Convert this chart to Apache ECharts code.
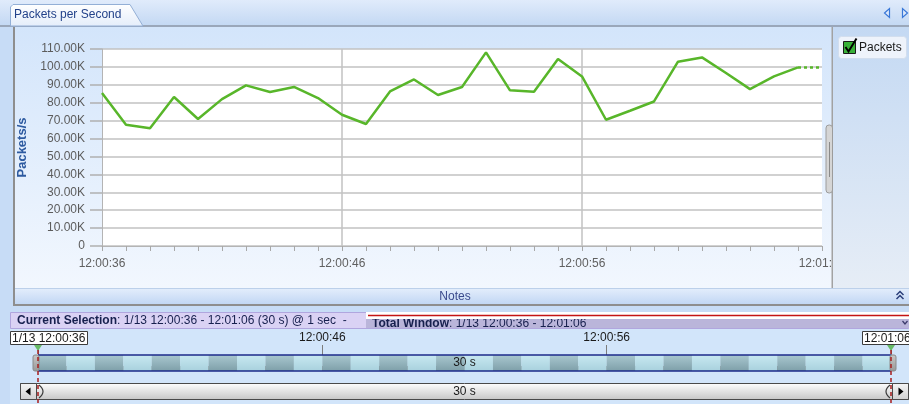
<!DOCTYPE html>
<html>
<head>
<meta charset="utf-8">
<title>Packets per Second</title>
<script src="https://cdn.jsdelivr.net/npm/echarts@6/dist/echarts.min.js"></script>
<style>
  html, body { margin: 0; padding: 0; background: #c9ddf6; }
  #chart { width: 909px; height: 404px; }
</style>
</head>
<body>
<div id="chart"></div>
<script>
// One sample per second over the selected window
const timeLabels = [
  '12:00:36', '12:00:37', '12:00:38', '12:00:39', '12:00:40', '12:00:41',
  '12:00:42', '12:00:43', '12:00:44', '12:00:45', '12:00:46', '12:00:47',
  '12:00:48', '12:00:49', '12:00:50', '12:00:51', '12:00:52', '12:00:53',
  '12:00:54', '12:00:55', '12:00:56', '12:00:57', '12:00:58', '12:00:59',
  '12:01:00', '12:01:01', '12:01:02', '12:01:03', '12:01:04', '12:01:05',
  '12:01:06'
];

// Measured packets per second (12:00:36 .. 12:01:05)
const packetsPerSecond = [
  85400, 67700, 65800, 83200, 70900, 82000, 89700, 86000, 88800, 82600,
  73300, 68100, 86300, 93000, 84300, 88800, 108100, 86900, 86100, 104400,
  94700, 70500, 75500, 80700, 102900, 105300, 96600, 87600, 94700, 99700
];

// Last, still-open interval (drawn dotted)
const pendingTail = [
  null, null, null, null, null, null, null, null, null, null,
  null, null, null, null, null, null, null, null, null, null,
  null, null, null, null, null, null, null, null, null, 99700, 99700
];

const yMax = 110000;
const yStep = 10000;

const seriesName = 'Packets';
const panelTitle = 'Packets per Second';
const yAxisTitle = 'Packets/s';
const selectionStartLabel = '1/13 12:00:36';
const selectionEndLabel = '12:01:06';
const spanLabel = '30 s';
const selectionCaption = 'Current Selection';
const selectionDetail = ': 1/13 12:00:36 - 12:01:06 (30 s) @ 1 sec  -';
const windowCaption = 'Total Window';
const windowDetail = ': 1/13 12:00:36 - 12:01:06';

const FONT = "'Liberation Sans', Arial, sans-serif";
const LINE_GREEN = '#58b62a';

const chart = echarts.init(document.getElementById('chart'), null, { renderer: 'canvas' });

const segmentIndex = packetsPerSecond.map((_, i) => [i]);

function vgrad(top, bottom) {
  return new echarts.graphic.LinearGradient(0, 0, 0, 1, [
    { offset: 0, color: top }, { offset: 1, color: bottom }
  ]);
}

chart.setOption({
  animation: false,
  textStyle: { fontFamily: FONT },
  grid: [
    { left: 102, top: 49, width: 720, height: 197, show: true, backgroundColor: '#ffffff', borderWidth: 0 },
    { left: 38, top: 355, width: 853, height: 16, show: false }
  ],
  xAxis: [
    {
      gridIndex: 0,
      type: 'category',
      data: timeLabels,
      boundaryGap: false,
      axisLine: { show: true, lineStyle: { color: '#b4b4b4', width: 1 } },
      axisTick: { show: true, interval: 0, length: 5, lineStyle: { color: '#a8a8a8' } },
      axisLabel: { interval: 9, margin: 12, color: '#606060', fontSize: 12, fontFamily: FONT },
      splitLine: {
        show: true,
        interval: (i) => i === 10 || i === 20,
        lineStyle: { color: '#c2c2c2', width: 1.5 }
      }
    },
    {
      gridIndex: 1,
      type: 'value',
      min: 0, max: 30, interval: 1,
      position: 'top',
      axisLine: { show: false },
      axisTick: { show: true, length: 5, lineStyle: { color: '#7c7c7c' } },
      axisLabel: { show: false },
      splitLine: { show: false }
    },
    {
      gridIndex: 1,
      type: 'value',
      min: 0, max: 30, interval: 10,
      position: 'top',
      axisLine: { show: false },
      axisTick: { show: true, length: 10, lineStyle: { color: '#7c7c7c' } },
      axisLabel: {
        show: true,
        margin: 11,
        color: '#1a1a1a',
        fontSize: 12,
        fontFamily: FONT,
        formatter: (v) => (v > 0 && v < 30 ? timeLabels[v] : '')
      },
      splitLine: { show: false }
    }
  ],
  yAxis: [
    {
      gridIndex: 0,
      type: 'value',
      min: 0, max: yMax, interval: yStep,
      name: yAxisTitle,
      nameLocation: 'middle',
      nameGap: 66,
      nameTextStyle: { color: '#2d5aa0', fontWeight: 'bold', fontSize: 13, fontFamily: FONT },
      axisLine: { show: true, lineStyle: { color: '#b4b4b4' } },
      axisTick: { show: true, length: 12, lineStyle: { color: '#b0b0b0', width: 1.5 } },
      axisLabel: {
        margin: 17,
        color: '#5c5c5c',
        fontSize: 12,
        fontFamily: FONT,
        formatter: (v) => (v === 0 ? '0' : (v / 1000).toFixed(2) + 'K')
      },
      splitLine: { show: true, lineStyle: { color: '#c2c2c2', width: 1.5 } }
    },
    { gridIndex: 1, type: 'value', min: 0, max: 1, show: false }
  ],
  series: [
    {
      name: seriesName,
      type: 'line',
      xAxisIndex: 0, yAxisIndex: 0,
      data: packetsPerSecond,
      symbol: 'none',
      lineStyle: { color: LINE_GREEN, width: 2.5 },
      z: 3
    },
    {
      name: seriesName,
      type: 'line',
      xAxisIndex: 0, yAxisIndex: 0,
      data: pendingTail,
      symbol: 'none',
      connectNulls: false,
      lineStyle: { color: LINE_GREEN, width: 2.5, type: [3, 3] },
      z: 3
    },
    {
      type: 'custom',
      xAxisIndex: 1, yAxisIndex: 1,
      data: segmentIndex,
      encode: { x: 0 },
      renderItem: (params, api) => {
        const i = api.value(0);
        const p0 = api.coord([i, 1]);
        const p1 = api.coord([i + 1, 0]);
        const dark = i % 2 === 0;
        return {
          type: 'rect',
          shape: { x: p0[0], y: p0[1], width: p1[0] - p0[0], height: p1[1] - p0[1] },
          style: {
            fill: dark ? vgrad('#a9c7cf', '#7e9fa9') : vgrad('#c8e8f1', '#a8d1dd')
          }
        };
      },
      z: 2
    }
  ]
});

// Frame, panels and timeline controls around the chart
const x0 = chart.convertToPixel({ xAxisIndex: 1 }, 0);
const x1 = chart.convertToPixel({ xAxisIndex: 1 }, 30);
const xm = (x0 + x1) / 2;

const BG = -10;
const TOP = 100;

const graphics = [
  // window background
  { type: 'rect', z: BG, shape: { x: 0, y: 0, width: 909, height: 404 }, style: { fill: '#c7dcf6' } },
  // tab strip
  { type: 'rect', z: BG, shape: { x: 0, y: 0, width: 909, height: 26 }, style: { fill: vgrad('#e0ebfb', '#c3d8f3') } },
  { type: 'rect', z: BG, shape: { x: 0, y: 25, width: 909, height: 2 }, style: { fill: '#9aa7ba' } },
  {
    type: 'polygon', z: BG,
    shape: { points: [[10.5, 26], [10.5, 7], [13, 4.5], [130, 4.5], [143, 26]] },
    style: { fill: vgrad('#ffffff', '#e4edfa'), stroke: '#93afd6', lineWidth: 1 }
  },
  {
    type: 'text', z: BG, x: 14, y: 15,
    style: { text: panelTitle, fill: '#23428a', font: '12px ' + FONT, verticalAlign: 'middle' }
  },
  // tab scroll arrows
  { type: 'polygon', z: BG, shape: { points: [[884.5, 13], [889.5, 8.5], [889.5, 17.5]] }, style: { fill: '#dfeafb', stroke: '#3a78d8', lineWidth: 1.2 } },
  { type: 'polygon', z: BG, shape: { points: [[902.5, 8.5], [902.5, 17.5], [907.5, 13]] }, style: { fill: '#dfeafb', stroke: '#3a78d8', lineWidth: 1.2 } },

  // chart panel
  { type: 'rect', z: BG, shape: { x: 15, y: 27, width: 817, height: 261 }, style: { fill: vgrad('#d3e5fb', '#f2f7fe') } },
  { type: 'rect', z: BG, shape: { x: 13, y: 27, width: 2, height: 279 }, style: { fill: '#8e8e8e' } },

  // notes bar
  { type: 'rect', z: BG, shape: { x: 15, y: 288, width: 894, height: 16 }, style: { fill: vgrad('#e4eefc', '#c2d7f4') } },
  { type: 'line', z: BG, shape: { x1: 15, y1: 288.5, x2: 909, y2: 288.5 }, style: { stroke: '#bcd0ea', lineWidth: 1 } },
  {
    type: 'text', z: BG, x: 455, y: 296.5,
    style: { text: 'Notes', fill: '#3a4a8c', font: '12px ' + FONT, align: 'center', verticalAlign: 'middle' }
  },
  { type: 'polyline', z: BG, shape: { points: [[896.5, 295], [900, 291.5], [903.5, 295]] }, style: { stroke: '#2b3f7a', lineWidth: 1.5, fill: null } },
  { type: 'polyline', z: BG, shape: { points: [[896.5, 299], [900, 295.5], [903.5, 299]] }, style: { stroke: '#2b3f7a', lineWidth: 1.5, fill: null } },
  { type: 'rect', z: BG, shape: { x: 13, y: 304, width: 896, height: 2 }, style: { fill: '#8e8e8e' } },

  // selection caption bar
  { type: 'rect', z: BG, shape: { x: 10.5, y: 312.5, width: 898, height: 16 }, style: { fill: '#dad2f4', stroke: '#b0a6de', lineWidth: 1 } },
  { type: 'rect', z: BG, shape: { x: 366, y: 313, width: 543, height: 15 }, style: { fill: '#bab5da' } },
  {
    type: 'text', z: BG, x: 17, y: 321,
    style: {
      text: '{b|' + selectionCaption + '}' + selectionDetail,
      fill: '#17204e', font: '12px ' + FONT, verticalAlign: 'middle',
      rich: { b: { fontWeight: 'bold', fontSize: 12, fontFamily: FONT, fill: '#17204e' } }
    }
  },
  {
    type: 'text', z: BG, x: 372, y: 324,
    style: {
      text: '{b|' + windowCaption + '}' + windowDetail,
      fill: '#17204e', font: '12px ' + FONT, verticalAlign: 'middle',
      rich: { b: { fontWeight: 'bold', fontSize: 12, fontFamily: FONT, fill: '#17204e' } }
    }
  },
  { type: 'rect', z: BG, shape: { x: 366, y: 312, width: 543, height: 7 }, style: { fill: '#ffffff' } },
  { type: 'line', z: BG, shape: { x1: 368, y1: 315.5, x2: 909, y2: 315.5 }, style: { stroke: '#c41414', lineWidth: 1.6 } },
  {
    type: 'polyline', z: BG, shape: { points: [[902.5, 321], [905, 324], [907.5, 321]] },
    style: { stroke: '#3a3a6a', lineWidth: 1.2, fill: null }
  },

  // timeline area
  { type: 'rect', z: BG, shape: { x: 10, y: 329, width: 899, height: 75 }, style: { fill: '#d2e5fa' } },

  // right legend panel (covers the clipped last x label)
  { type: 'rect', z: TOP, shape: { x: 833, y: 27, width: 76, height: 261 }, style: { fill: vgrad('#c4d9f3', '#e6edf6') } },
  { type: 'rect', z: TOP, shape: { x: 831.5, y: 27, width: 1.5, height: 261 }, style: { fill: '#a2a2a2' } },
  { type: 'rect', z: TOP, shape: { x: 838.5, y: 36.5, width: 68, height: 22, r: 3 }, style: { fill: '#eef3fb', stroke: '#d2deee', lineWidth: 1 } },
  { type: 'rect', z: TOP, shape: { x: 843.5, y: 41.5, width: 12, height: 12 }, style: { fill: '#38b038', stroke: '#1a1a1a', lineWidth: 1 } },
  { type: 'polyline', z: TOP, shape: { points: [[845.5, 47], [848.5, 51.5], [856.5, 38.5]] }, style: { stroke: '#000000', lineWidth: 2, fill: null } },
  {
    type: 'text', z: TOP, x: 859, y: 48,
    style: { text: seriesName, fill: '#1a1a1a', font: '12px ' + FONT, verticalAlign: 'middle' }
  },
  // panel splitter handle
  { type: 'rect', z: TOP, shape: { x: 826, y: 125, width: 6.5, height: 68, r: 3 }, style: { fill: '#d5d5d5', stroke: '#9c9c9c', lineWidth: 1 } },
  { type: 'line', z: TOP, shape: { x1: 829.5, y1: 142, x2: 829.5, y2: 177 }, style: { stroke: '#8a8a8a', lineWidth: 1 } },

  // selection bar outline
  { type: 'line', z: TOP, shape: { x1: x0, y1: 355, x2: x1, y2: 355 }, style: { stroke: '#1c2a8a', lineWidth: 1.5 } },
  { type: 'line', z: TOP, shape: { x1: x0, y1: 371, x2: x1, y2: 371 }, style: { stroke: '#1c2a8a', lineWidth: 1.5 } },
  {
    type: 'text', z: TOP, x: xm, y: 363,
    style: { text: spanLabel, fill: '#1a1a1a', font: '12px ' + FONT, align: 'center', verticalAlign: 'middle' }
  },
  // drag grips
  { type: 'rect', z: TOP, shape: { x: x0 - 5, y: 355, width: 6, height: 16, r: 2 }, style: { fill: vgrad('#c8c8c8', '#979797'), stroke: '#8a8a8a', lineWidth: 1 } },
  { type: 'rect', z: TOP, shape: { x: x1 - 1, y: 355, width: 6, height: 16, r: 2 }, style: { fill: vgrad('#c8c8c8', '#979797'), stroke: '#8a8a8a', lineWidth: 1 } },

  // scrollbar
  { type: 'rect', z: TOP, shape: { x: 20.5, y: 383.5, width: 888, height: 16 }, style: { fill: vgrad('#ffffff', '#c6c6c6'), stroke: '#4a4a4a', lineWidth: 1 } },
  { type: 'rect', z: TOP, shape: { x: 20.5, y: 383.5, width: 16, height: 16 }, style: { fill: vgrad('#f6f6f6', '#cfcfcf'), stroke: '#4a4a4a', lineWidth: 1 } },
  { type: 'polygon', z: TOP, shape: { points: [[25.5, 391.5], [30.5, 387.5], [30.5, 395.5]] }, style: { fill: '#000000' } },
  { type: 'rect', z: TOP, shape: { x: 892.5, y: 383.5, width: 16, height: 16 }, style: { fill: vgrad('#f6f6f6', '#cfcfcf'), stroke: '#4a4a4a', lineWidth: 1 } },
  { type: 'polygon', z: TOP, shape: { points: [[898.5, 387.5], [898.5, 395.5], [903.5, 391.5]] }, style: { fill: '#000000' } },
  {
    type: 'bezierCurve', z: TOP,
    shape: { x1: x0 + 1, y1: 385, cpx1: x0 + 9, cpy1: 391.5, x2: x0 + 1, y2: 398 },
    style: { stroke: '#3a3a3a', lineWidth: 1.2, fill: null }
  },
  {
    type: 'bezierCurve', z: TOP,
    shape: { x1: x1 - 1, y1: 385, cpx1: x1 - 9, cpy1: 391.5, x2: x1 - 1, y2: 398 },
    style: { stroke: '#3a3a3a', lineWidth: 1.2, fill: null }
  },
  {
    type: 'text', z: TOP, x: xm, y: 392,
    style: { text: spanLabel, fill: '#1a1a1a', font: '12px ' + FONT, align: 'center', verticalAlign: 'middle' }
  },

  // selection edge markers
  { type: 'polygon', z: TOP, shape: { points: [[x0 - 4, 345], [x0 + 4, 345], [x0, 351]] }, style: { fill: '#66bb66' } },
  { type: 'polygon', z: TOP, shape: { points: [[x1 - 4, 345], [x1 + 4, 345], [x1, 351]] }, style: { fill: '#66bb66' } },
  { type: 'line', z: TOP + 1, shape: { x1: x0, y1: 350, x2: x0, y2: 404 }, style: { stroke: '#a81c1c', lineWidth: 1.5, lineDash: [4, 3] } },
  { type: 'line', z: TOP + 1, shape: { x1: x1, y1: 350, x2: x1, y2: 404 }, style: { stroke: '#a81c1c', lineWidth: 1.5, lineDash: [4, 3] } },
  { type: 'rect', z: TOP, shape: { x: 10.5, y: 331.5, width: 77, height: 13 }, style: { fill: '#ffffff', stroke: '#3c3c3c', lineWidth: 1 } },
  {
    type: 'text', z: TOP, x: 12, y: 338.5,
    style: { text: selectionStartLabel, fill: '#1a1a1a', font: '12px ' + FONT, verticalAlign: 'middle' }
  },
  { type: 'rect', z: TOP, shape: { x: 862.5, y: 331.5, width: 50, height: 13 }, style: { fill: '#ffffff', stroke: '#3c3c3c', lineWidth: 1 } },
  {
    type: 'text', z: TOP, x: 864, y: 338.5,
    style: { text: selectionEndLabel, fill: '#1a1a1a', font: '12px ' + FONT, verticalAlign: 'middle' }
  }
];

chart.setOption({ graphic: { elements: graphics } });
</script>
</body>
</html>
